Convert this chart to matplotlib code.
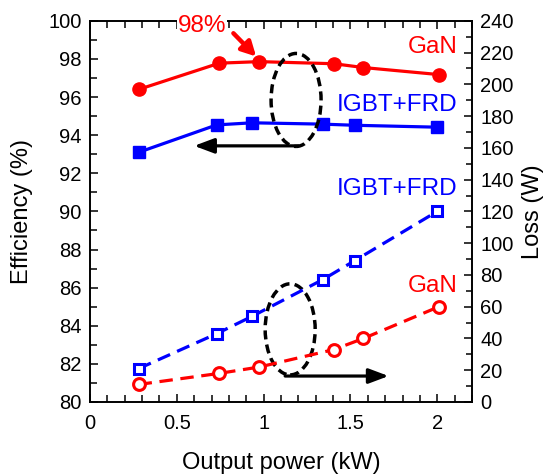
import matplotlib
matplotlib.use("Agg")
import matplotlib.pyplot as plt
from matplotlib.patches import Ellipse
from matplotlib.ticker import MultipleLocator

plt.rcParams['font.family'] = ['Liberation Sans', 'DejaVu Sans']

# Data
gan_power = [0.28, 0.745, 0.975, 1.405, 1.575, 2.01]
gan_eff = [96.4, 97.78, 97.86, 97.75, 97.55, 97.18]
gan_loss = [11, 18, 22, 33, 40, 60]
igbt_power = [0.28, 0.73, 0.935, 1.34, 1.525, 2.0]
igbt_eff = [93.1, 94.54, 94.65, 94.58, 94.52, 94.42]
igbt_loss = [21, 43, 54, 77, 89, 120]

RED = '#ff0000'
BLUE = '#0000ff'

fig = plt.figure(figsize=(5.52, 4.74), dpi=100)
ax = fig.add_axes([0.163, 0.152, 0.692, 0.804])
ax2 = ax.twinx()
ax2.set_position([0.163, 0.152, 0.692, 0.804])

ax.plot(gan_power, gan_eff, '-o', color=RED, lw=2.3, ms=9.5, zorder=5)
ax.plot(igbt_power, igbt_eff, '-s', color=BLUE, lw=2.3, ms=8.5, zorder=5)
ax2.plot(gan_power, gan_loss, '--o', color=RED, lw=2.3, ms=8.5, mfc='white',
         mew=2.2, dashes=(4.2, 2.4), zorder=5)
ax2.plot(igbt_power, igbt_loss, '--s', color=BLUE, lw=2.3, ms=7.5, mfc='white',
         mew=2.2, dashes=(4.2, 2.4), zorder=5)

ax.set_xlim(0, 2.2)
ax.set_ylim(80, 100)
ax2.set_ylim(0, 240)

ax.xaxis.set_major_locator(MultipleLocator(0.5))
ax.xaxis.set_minor_locator(MultipleLocator(0.1))
ax.yaxis.set_major_locator(MultipleLocator(2))
ax.yaxis.set_minor_locator(MultipleLocator(1))
ax2.yaxis.set_major_locator(MultipleLocator(20))
ax2.yaxis.set_minor_locator(MultipleLocator(10))
ax.set_xticks([0, 0.5, 1, 1.5, 2])
ax.set_xticklabels(['0', '0.5', '1', '1.5', '2'])

ax.tick_params(axis='x', which='both', direction='in', top=True, labelsize=14.5, pad=9)
ax.tick_params(axis='y', which='both', direction='in', right=False, labelsize=14.5, pad=6)
ax.tick_params(which='major', length=6, width=1.1)
ax.tick_params(which='minor', length=5, width=1.1)
ax2.tick_params(axis='y', which='both', direction='in', labelsize=14.5, pad=6)
ax2.tick_params(which='major', length=6, width=1.1)
ax2.tick_params(which='minor', length=4, width=1.1)
for a in (ax, ax2):
    for s in a.spines.values():
        s.set_linewidth(1.2)

ax.set_xlabel('Output power (kW)', fontsize=17, labelpad=13)
ax.set_ylabel('Efficiency (%)', fontsize=17, labelpad=11)
ax2.set_ylabel('Loss (W)', fontsize=17, labelpad=6)

# Ellipses
ax.add_patch(Ellipse((1.187, 95.85), 0.288, 4.88, fill=False, ec='black',
                     lw=2.5, ls=(0, (2.6, 1.5)), zorder=6))
ax.add_patch(Ellipse((1.153, 83.81), 0.288, 4.78, fill=False, ec='black',
                     lw=2.5, ls=(0, (2.6, 1.5)), zorder=6))

# Arrows
ax.annotate('', xy=(0.6, 93.44), xytext=(1.2, 93.44),
            arrowprops=dict(arrowstyle='-|>,head_length=1.2,head_width=0.45',
                            color='black', lw=2.3, shrinkA=0, shrinkB=0), zorder=7)
ax.annotate('', xy=(1.72, 81.36), xytext=(1.124, 81.36),
            arrowprops=dict(arrowstyle='-|>,head_length=1.2,head_width=0.45',
                            color='black', lw=2.3, shrinkA=0, shrinkB=0), zorder=7)
ax.annotate('', xy=(0.957, 98.13), xytext=(0.826, 99.35),
            arrowprops=dict(arrowstyle='-|>,head_length=0.85,head_width=0.45',
                            color=RED, lw=3.2, shrinkA=0, shrinkB=0), zorder=7)

# Texts
ax2.text(0.644, 99.44, '98%', color=RED, fontsize=17.5, ha='center', va='baseline',
         transform=ax.transData,
         bbox=dict(facecolor='white', edgecolor='none', pad=0.5), clip_on=False, zorder=10)
ax.text(2.117, 98.30, 'GaN', color=RED, fontsize=17.5, ha='right', va='baseline')
ax.text(2.115, 95.29, 'IGBT+FRD', color=BLUE, fontsize=17.5, ha='right', va='baseline')
ax.text(2.115, 90.87, 'IGBT+FRD', color=BLUE, fontsize=17.5, ha='right', va='baseline')
ax.text(2.117, 85.79, 'GaN', color=RED, fontsize=17.5, ha='right', va='baseline')

fig.savefig('out.png', dpi=100)
